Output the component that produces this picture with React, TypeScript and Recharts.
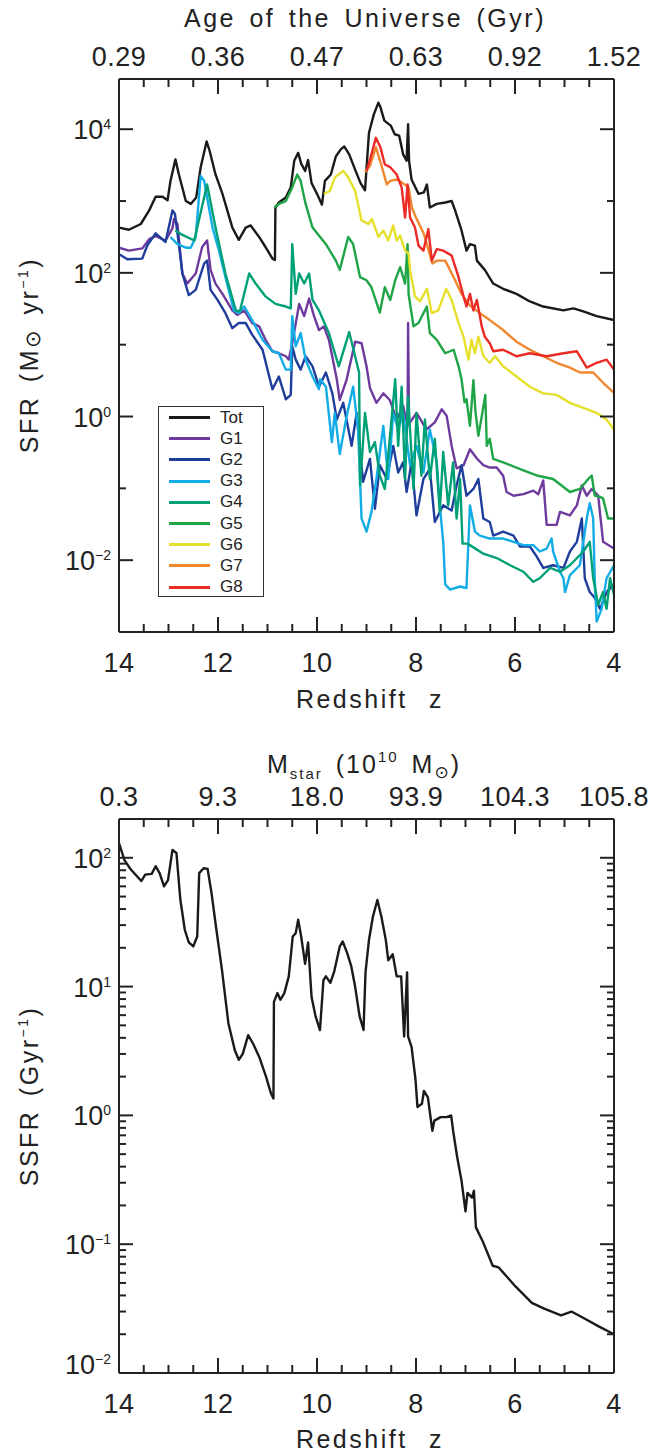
import React from 'react';
import { LineChart, Line, XAxis, YAxis, Legend } from 'recharts';

// ---------- axis ticks & labels ----------
const Z_TICKS = [14, 13.5, 13, 12.5, 12, 11.5, 11, 10.5, 10, 9.5, 9, 8.5, 8, 7.5, 7, 6.5, 6, 5.5, 5, 4.5, 4];
const Z_MAJOR = [14, 12, 10, 8, 6, 4];
const Z_LABELS = ['14', '12', '10', '8', '6', '4'];
const AGE_LABELS = ['0.29', '0.36', '0.47', '0.63', '0.92', '1.52'];
const MSTAR_LABELS = ['0.3', '9.3', '18.0', '93.9', '104.3', '105.8'];
const SFR_TICKS = [0.01, 0.1, 1, 10, 100, 1000, 10000];
const SFR_LABELED = [0.01, 1, 100, 10000];
const SFR_EXP = ['\u22122', '0', '2', '4'];
const SSFR_TICKS = [0.01, 0.02, 0.03, 0.04, 0.05, 0.06, 0.07, 0.08, 0.09, 0.1, 0.2, 0.3, 0.4, 0.5, 0.6, 0.7, 0.8, 0.9, 1, 2, 3, 4, 5, 6, 7, 8, 9, 10, 20, 30, 40, 50, 60, 70, 80, 90, 100];
const SSFR_LABELED = [0.01, 0.1, 1, 10, 100];
const SSFR_EXP = ['\u22122', '\u22121', '0', '1', '2'];

// ---------- series: [redshift z, SFR (Msun/yr)] ----------
const TOT = [[14.0,427],[13.8,398],[13.56,479],[13.39,741],[13.26,1148],[13.12,1148],[13.02,1023],[12.96,1905],[12.86,3802],[12.79,2344],[12.65,1000],[12.55,912],[12.44,1122],[12.35,2951],[12.23,6761],[12.17,5012],[12.05,2344],[11.91,1259],[11.71,427],[11.58,288],[11.44,427],[11.34,457],[11.17,316],[11.04,229],[10.9,158],[10.85,151],[10.84,813],[10.77,955],[10.63,1122],[10.53,1549],[10.46,3631],[10.38,4677],[10.32,3311],[10.24,2630],[10.18,3715],[10.11,1778],[10.0,1259],[9.9,891],[9.84,1905],[9.72,2344],[9.62,4169],[9.52,5248],[9.45,5754],[9.35,4467],[9.22,2630],[9.12,1778],[9.03,1413],[9.0,2818],[8.95,8913],[8.85,16218],[8.76,23442],[8.72,20417],[8.64,13183],[8.51,11220],[8.43,8511],[8.34,8128],[8.26,4467],[8.19,3631],[8.16,11749],[8.14,3631],[8.09,1995],[7.95,1259],[7.84,1318],[7.78,1698],[7.72,813],[7.58,912],[7.41,955],[7.28,1000],[7.21,741],[7.08,389],[6.98,204],[6.91,251],[6.81,240],[6.77,148],[6.61,110],[6.44,71],[6.24,60],[5.97,51],[5.7,40],[5.43,34],[5.02,30],[4.82,32],[4.62,29],[4.35,25],[4.0,22]];
const G1 = [[14.0,224],[13.8,204],[13.53,219],[13.39,295],[13.26,324],[13.06,282],[12.92,417],[12.89,562],[12.82,479],[12.72,98],[12.62,71],[12.45,98],[12.32,229],[12.22,282],[12.15,110],[12.05,71],[11.91,51],[11.71,30],[11.61,26],[11.47,30],[11.31,20],[11.17,18],[11.04,11.7],[10.9,8.1],[10.77,7.6],[10.63,6.9],[10.57,6.2],[10.5,10.5],[10.36,37],[10.26,25],[10.16,44],[10.06,25],[9.96,16],[9.86,18],[9.76,11.7],[9.6,3.3],[9.54,1.7],[9.4,3.3],[9.23,11],[9.1,10.5],[9.0,5.0],[8.93,2.5],[8.8,1.55],[8.66,2.1],[8.53,1.7],[8.39,0.91],[8.26,1.41],[8.17,0.74],[8.16,20],[8.14,0.79],[7.99,1.12],[7.79,0.66],[7.62,0.83],[7.48,1.26],[7.38,1.02],[7.28,0.39],[7.18,0.19],[7.04,0.21],[6.91,0.35],[6.77,0.26],[6.64,0.21],[6.51,0.195],[6.37,0.195],[6.24,0.15],[6.17,0.089],[6.03,0.079],[5.83,0.083],[5.63,0.093],[5.53,0.083],[5.43,0.129],[5.36,0.031],[5.16,0.031],[5.09,0.047],[4.89,0.042],[4.75,0.058],[4.65,0.11],[4.55,0.079],[4.45,0.098],[4.32,0.079],[4.22,0.018],[4.0,0.0145]];
const G2 = [[14.0,182],[13.83,155],[13.53,158],[13.43,240],[13.26,355],[13.06,269],[12.92,741],[12.87,661],[12.8,282],[12.72,98],[12.59,49],[12.45,58],[12.28,135],[12.22,148],[12.15,58],[12.01,42],[11.85,27.5],[11.71,17],[11.58,20],[11.44,20],[11.31,13.8],[11.1,8.5],[10.9,2.4],[10.77,3.6],[10.63,1.74],[10.53,2.0],[10.5,9.5],[10.43,6.2],[10.33,4.5],[10.23,6.9],[10.09,5.0],[9.96,2.6],[9.82,4.1],[9.69,2.1],[9.6,0.91],[9.47,1.55],[9.3,0.39],[9.2,1.12],[9.07,0.123],[8.93,0.257],[8.83,0.052],[8.73,0.21],[8.59,0.135],[8.46,0.39],[8.36,0.166],[8.26,0.23],[8.19,0.089],[8.09,0.23],[7.99,0.042],[7.85,0.135],[7.72,0.186],[7.62,0.034],[7.45,0.058],[7.28,0.049],[7.18,0.11],[7.08,0.21],[6.98,0.079],[6.84,0.098],[6.74,0.135],[6.64,0.038],[6.51,0.034],[6.44,0.022],[6.24,0.025],[6.03,0.022],[5.9,0.0155],[5.7,0.0155],[5.56,0.0112],[5.43,0.0078],[5.23,0.0085],[5.02,0.0078],[4.89,0.0132],[4.75,0.018],[4.65,0.038],[4.59,0.0056],[4.49,0.0036],[4.39,0.003],[4.28,0.0021],[4.15,0.0036],[4.0,0.0046]];
const G3 = [[12.96,316],[12.82,251],[12.65,224],[12.55,224],[12.45,316],[12.35,2239],[12.28,1905],[12.22,1122],[12.11,427],[11.98,204],[11.85,87],[11.68,30],[11.58,27.5],[11.47,34],[11.31,22],[11.1,11.7],[10.9,8.1],[10.77,7.6],[10.63,4.5],[10.53,4.5],[10.5,25],[10.43,9.5],[10.33,14.5],[10.23,6.2],[10.09,3.6],[9.96,2.4],[9.94,3.3],[9.82,2.6],[9.7,0.44],[9.64,1.12],[9.54,0.3],[9.4,1.02],[9.27,2.6],[9.17,0.66],[9.1,0.038],[9.0,0.025],[8.9,0.047],[8.8,0.135],[8.66,0.74],[8.56,0.135],[8.46,1.12],[8.36,0.66],[8.26,1.12],[8.12,0.21],[7.99,0.39],[7.85,0.166],[7.72,0.66],[7.58,0.23],[7.52,0.058],[7.45,0.018],[7.41,0.0046],[7.31,0.0039],[7.11,0.0043],[6.98,0.0041],[6.91,0.058],[6.81,0.025],[6.71,0.022],[6.51,0.02],[6.24,0.02],[6.03,0.018],[5.83,0.0162],[5.63,0.0162],[5.5,0.0132],[5.36,0.0145],[5.26,0.02],[5.23,0.0132],[5.09,0.0069],[5.02,0.0056],[4.99,0.0036],[4.89,0.0062],[4.69,0.0085],[4.55,0.038],[4.49,0.062],[4.42,0.038],[4.39,0.0056],[4.35,0.0014],[4.25,0.0021],[4.15,0.0056],[4.0,0.0085]];
const G4 = [[12.86,389],[12.75,347],[12.48,282],[12.22,1698],[12.05,427],[11.85,98],[11.64,30],[11.56,29],[11.37,98],[11.24,71],[11.04,47],[10.84,37],[10.63,34],[10.53,32],[10.5,251],[10.43,51],[10.36,98],[10.26,71],[10.16,98],[10.09,42],[9.96,30],[9.76,14.5],[9.56,5.0],[9.35,15],[9.15,4.1],[9.13,0.11],[9.03,1.12],[8.93,0.32],[8.83,0.44],[8.73,0.15],[8.63,0.098],[8.53,0.49],[8.42,3.3],[8.36,0.39],[8.29,2.6],[8.22,0.135],[8.16,1.9],[8.05,0.098],[7.99,1.12],[7.89,0.15],[7.82,0.91],[7.72,0.135],[7.62,0.49],[7.52,0.047],[7.45,0.32],[7.35,0.058],[7.25,0.23],[7.18,0.038],[7.11,0.135],[7.06,0.017],[6.97,0.017],[6.91,0.0162],[6.64,0.0123],[6.37,0.0107],[6.1,0.0085],[5.83,0.0069],[5.63,0.005],[5.5,0.0056],[5.29,0.0078],[5.09,0.0069],[4.89,0.0085],[4.62,0.0132],[4.49,0.018],[4.42,0.0056],[4.32,0.0024],[4.22,0.0036],[4.15,0.0021],[4.08,0.0056],[4.0,0.0033]];
const G5 = [[10.86,813],[10.77,912],[10.63,1000],[10.5,1549],[10.4,2344],[10.33,1905],[10.23,912],[10.09,427],[9.82,251],[9.62,148],[9.54,110],[9.37,316],[9.27,251],[9.13,87],[9.0,79],[8.9,63],[8.73,28],[8.63,63],[8.52,42],[8.42,79],[8.32,120],[8.22,71],[8.17,251],[8.15,51],[8.05,18],[7.95,20],[7.78,34],[7.72,14.5],[7.58,11.7],[7.41,7.6],[7.24,8.5],[7.14,5.0],[7.08,3.3],[7.02,1.58],[6.98,1.74],[6.91,0.74],[6.84,3.2],[6.8,1.2],[6.74,0.54],[6.67,1.02],[6.6,2.0],[6.57,0.39],[6.51,0.49],[6.44,0.257],[6.24,0.23],[5.83,0.178],[5.56,0.151],[5.23,0.135],[4.89,0.089],[4.69,0.098],[4.52,0.135],[4.45,0.151],[4.39,0.079],[4.28,0.076],[4.22,0.072],[4.12,0.038],[4.0,0.038]];
const G6 = [[9.86,1259],[9.74,1380],[9.64,2138],[9.47,2630],[9.37,2138],[9.23,1380],[9.1,537],[8.96,479],[8.89,562],[8.76,316],[8.66,389],[8.56,282],[8.46,457],[8.39,282],[8.32,331],[8.22,204],[8.15,186],[8.12,110],[8.02,47],[7.92,40],[7.78,60],[7.68,27.5],[7.55,30],[7.39,60],[7.28,42],[7.14,20],[7.04,12.9],[6.94,6.2],[6.88,11.7],[6.81,7.6],[6.74,12.9],[6.64,6.9],[6.51,5.6],[6.4,6.9],[6.24,5.0],[5.97,3.6],[5.7,2.6],[5.43,2.1],[5.16,2.0],[4.89,1.55],[4.62,1.32],[4.35,1.12],[4.15,0.91],[4.0,0.66]];
const G7 = [[9.03,2512],[8.93,3090],[8.81,5623],[8.7,3162],[8.59,1698],[8.52,1905],[8.39,1995],[8.29,1820],[8.15,1549],[8.08,794],[8.0,589],[7.84,347],[7.67,135],[7.58,148],[7.41,148],[7.24,87],[7.08,51],[6.91,35],[6.71,27.5],[6.51,22],[6.24,16],[5.97,11],[5.7,8.5],[5.43,6.9],[5.16,5.6],[4.89,4.8],[4.69,4.1],[4.42,4.1],[4.22,2.95],[4.0,2.14]];
const G8 = [[8.997,2630],[8.92,4000],[8.81,7586],[8.72,5623],[8.63,3236],[8.52,2951],[8.39,2344],[8.29,1549],[8.22,589],[8.17,1698],[8.12,589],[8.02,427],[7.95,240],[7.85,204],[7.75,407],[7.68,148],[7.58,214],[7.45,204],[7.28,174],[7.14,87],[7.04,47],[6.98,34],[6.91,51],[6.84,30],[6.77,42],[6.67,17.8],[6.61,12.9],[6.51,10.5],[6.44,8.1],[6.24,8.5],[5.97,6.9],[5.7,7.6],[5.36,6.9],[5.02,7.6],[4.75,8.1],[4.55,4.8],[4.35,5.6],[4.15,6.2],[4.0,4.5]];

// ---------- specific SFR (1/Gyr) ----------
const SSFR = [[14.0,130],[13.89,96],[13.76,81],[13.55,66],[13.47,74],[13.34,75],[13.26,86],[13.18,76],[13.09,60],[13.01,67],[12.92,115],[12.84,109],[12.76,47],[12.67,27.5],[12.59,22],[12.5,20.5],[12.42,24.5],[12.38,76],[12.29,83],[12.21,82],[12.13,53],[12.04,29],[11.92,13.5],[11.79,5.2],[11.66,3.2],[11.58,2.7],[11.5,3.0],[11.39,4.2],[11.29,3.6],[11.16,2.8],[11.03,2.0],[10.93,1.48],[10.88,1.35],[10.87,7.6],[10.8,8.9],[10.74,7.9],[10.66,8.9],[10.57,12],[10.49,24.5],[10.43,26],[10.38,33],[10.32,24.5],[10.24,15],[10.18,22],[10.11,8.3],[10.03,5.9],[9.94,4.6],[9.87,11.2],[9.82,12],[9.73,10.7],[9.65,13.2],[9.54,20.5],[9.48,22.4],[9.39,18.2],[9.31,14.5],[9.23,10],[9.14,5.9],[9.06,4.6],[9.02,12.9],[8.95,23],[8.87,35],[8.78,47],[8.7,35],[8.61,23],[8.56,16],[8.47,17.8],[8.39,12],[8.3,12],[8.24,4.1],[8.18,12.9],[8.16,4.1],[8.09,3.4],[8.01,1.9],[7.97,1.16],[7.88,1.23],[7.84,1.55],[7.76,1.38],[7.67,0.76],[7.63,0.91],[7.5,0.97],[7.38,0.97],[7.29,1.0],[7.25,0.76],[7.17,0.48],[7.08,0.31],[7.0,0.18],[6.96,0.25],[6.87,0.23],[6.83,0.26],[6.79,0.135],[6.66,0.107],[6.45,0.068],[6.33,0.066],[5.99,0.047],[5.66,0.035],[5.41,0.0316],[5.07,0.028],[4.86,0.03],[4.56,0.026],[4.31,0.023],[4.0,0.02]];

const SERIES_NAMES = ['Tot', 'G1', 'G2', 'G3', 'G4', 'G5', 'G6', 'G7', 'G8'];
const SERIES_VALUES = [TOT, G1, G2, G3, G4, G5, G6, G7, G8];

// ---------- styles ----------
const COLORS = ['#1a1a1a', '#6e3a9e', '#1f3d9b', '#12ade6', '#00a077', '#1fa546', '#e6e02c', '#f0862e', '#ec2a26'];
const FONT = '"Liberation Sans", Arial, Helvetica, sans-serif';
const INK = '#222';
const W = 653;

const toPts = (arr: number[][]) => arr.map(([z, v]) => ({ z, v }));

const xTick = (side: 'top' | 'bottom', labels: string[]) => (props: any) => {
  const { x, y, payload } = props;
  const idx = Z_MAJOR.indexOf(payload.value);
  const major = idx >= 0;
  const len = major ? 15 : 8;
  const dir = side === 'bottom' ? -1 : 1;
  return (
    <g>
      <line x1={x} x2={x} y1={y} y2={y + dir * len} stroke={INK} strokeWidth={2} />
      {major && (
        <text x={x} y={side === 'bottom' ? y + 40 : y - 13} textAnchor="middle" fontFamily={FONT} fontSize={27} letterSpacing={0.5} fill={INK}>
          {labels[idx]}
        </text>
      )}
    </g>
  );
};

const yTick = (side: 'left' | 'right', labeled: number[], exps: string[], lowShift: number | null) => (props: any) => {
  const { x, y, payload } = props;
  const idx = labeled.indexOf(payload.value);
  const major = idx >= 0;
  const len = major ? 14 : 7;
  const dir = side === 'left' ? 1 : -1;
  const base = lowShift !== null && payload.value === labeled[0] ? y + lowShift : y + 10;
  return (
    <g>
      <line x1={x} x2={x + dir * len} y1={y} y2={y} stroke={INK} strokeWidth={2} />
      {major && side === 'left' && (
        <text x={x - 8} y={base} textAnchor="end" fontFamily={FONT} fontSize={27} fill={INK}>
          10<tspan fontSize={14} dy={-10}>{exps[idx]}</tspan>
        </text>
      )}
    </g>
  );
};

const TitleTop = () => (
  <text x={365} y={27} textAnchor="middle" fontFamily={FONT} fontSize={25} letterSpacing={2.5} wordSpacing={4} fill={INK}>
    Age of the Universe (Gyr)
  </text>
);
const RedshiftTitle = ({ yy }: any) => (
  <text x={370} y={yy} textAnchor="middle" fontFamily={FONT} fontSize={25} letterSpacing={2.5} wordSpacing={12} fill={INK}>
    Redshift z
  </text>
);
const SfrTitle = () => (
  <text transform="rotate(-90)" x={-355} y={38} textAnchor="middle" fontFamily={FONT} fontSize={25} letterSpacing={2.5} wordSpacing={4} fill={INK}>
    SFR (M<tspan fontFamily="DejaVu Sans" fontSize={21} dy={2}>{'\u2299'}</tspan>
    <tspan dy={-2}> yr</tspan>
    <tspan fontSize={14} dy={-10}>{'\u22121'}</tspan>
    <tspan dy={10}>)</tspan>
  </text>
);
const MstarTitle = () => (
  <text x={364} y={45} textAnchor="middle" fontFamily={FONT} fontSize={25} letterSpacing={2} wordSpacing={4} fill={INK}>
    M<tspan fontSize={15} dy={6}>star</tspan>
    <tspan dy={-6}> (10</tspan>
    <tspan fontSize={15} dy={-11}>10</tspan>
    <tspan dy={11}> M</tspan>
    <tspan fontFamily="DejaVu Sans" fontSize={17} dy={5}>{'\u2299'}</tspan>
    <tspan dy={-5}>)</tspan>
  </text>
);
const SsfrTitle = () => (
  <text transform="rotate(-90)" x={-368} y={38} textAnchor="middle" fontFamily={FONT} fontSize={25} letterSpacing={2.5} wordSpacing={4} fill={INK}>
    SSFR (Gyr<tspan fontSize={14} dy={-10}>{'\u22121'}</tspan>
    <tspan dy={10}>)</tspan>
  </text>
);

const renderLegend = () => (
  <div style={{ width: 106, height: 191, border: '1.5px solid #333', background: '#fff', position: 'relative', boxSizing: 'border-box' }}>
    {SERIES_NAMES.map((n, i) => (
      <div key={n} style={{ position: 'absolute', left: 10, top: 0.5 + 21.2 * i, height: 20, display: 'flex', alignItems: 'center' }}>
        <div style={{ width: 41, height: 0, borderTop: `3px solid ${COLORS[i]}` }} />
        <span style={{ marginLeft: 10, fontFamily: FONT, fontSize: 17, color: INK, lineHeight: '20px' }}>{n}</span>
      </div>
    ))}
  </div>
);

const axisLine = { stroke: INK, strokeWidth: 2 };

export default function App() {
  return (
    <div style={{ width: W, height: 1453, overflow: 'hidden', background: '#fff' }}>
      <style>{'body{margin:0;background:#fff}'}</style>
      <LineChart width={W} height={728} margin={{ top: 0, right: 0, bottom: 0, left: 0 }}>
        <XAxis xAxisId="b" type="number" dataKey="z" domain={[4, 14]} reversed allowDataOverflow ticks={Z_TICKS} interval={0}
          height={96} tickSize={0} tickMargin={0} tickLine={false} axisLine={axisLine} tick={xTick('bottom', Z_LABELS)}
          label={<RedshiftTitle yy={708} />} />
        <XAxis xAxisId="t" orientation="top" type="number" dataKey="z" domain={[4, 14]} reversed allowDataOverflow ticks={Z_TICKS} interval={0}
          height={79} tickSize={0} tickMargin={0} tickLine={false} axisLine={axisLine} tick={xTick('top', AGE_LABELS)}
          label={<TitleTop />} />
        <YAxis yAxisId="l" type="number" scale="log" domain={[0.001, 50000]} allowDataOverflow ticks={SFR_TICKS} interval={0}
          width={119} tickSize={0} tickMargin={0} tickLine={false} axisLine={axisLine} tick={yTick('left', SFR_LABELED, SFR_EXP, null)}
          label={<SfrTitle />} />
        <YAxis yAxisId="r" orientation="right" type="number" scale="log" domain={[0.001, 50000]} allowDataOverflow ticks={SFR_TICKS} interval={0}
          width={39} tickSize={0} tickMargin={0} tickLine={false} axisLine={axisLine} tick={yTick('right', SFR_LABELED, SFR_EXP, null)} />
        {SERIES_VALUES.map((arr, i) => (
          <Line key={SERIES_NAMES[i]} name={SERIES_NAMES[i]} data={toPts(arr)} dataKey="v" xAxisId="b" yAxisId="l" type="linear"
            stroke={COLORS[i]} strokeWidth={2.4} strokeLinejoin="round" dot={false} activeDot={false} isAnimationActive={false} />
        ))}
        <Legend layout="vertical" align="center" verticalAlign="middle" content={renderLegend}
          wrapperStyle={{ left: 158, top: 406, width: 106, height: 191 }} />
      </LineChart>
      <LineChart width={W} height={725} margin={{ top: 0, right: 0, bottom: 0, left: 0 }}>
        <XAxis xAxisId="b" type="number" dataKey="z" domain={[4, 14]} reversed allowDataOverflow ticks={Z_TICKS} interval={0}
          height={80} tickSize={0} tickMargin={0} tickLine={false} axisLine={axisLine} tick={xTick('bottom', Z_LABELS)}
          label={<RedshiftTitle yy={720} />} />
        <XAxis xAxisId="t" orientation="top" type="number" dataKey="z" domain={[4, 14]} reversed allowDataOverflow ticks={Z_TICKS} interval={0}
          height={91} tickSize={0} tickMargin={0} tickLine={false} axisLine={axisLine} tick={xTick('top', MSTAR_LABELS)}
          label={<MstarTitle />} />
        <YAxis yAxisId="l" type="number" scale="log" domain={[0.01, 200]} allowDataOverflow ticks={SSFR_TICKS} interval={0}
          width={119} tickSize={0} tickMargin={0} tickLine={false} axisLine={axisLine} tick={yTick('left', SSFR_LABELED, SSFR_EXP, 1)}
          label={<SsfrTitle />} />
        <YAxis yAxisId="r" orientation="right" type="number" scale="log" domain={[0.01, 200]} allowDataOverflow ticks={SSFR_TICKS} interval={0}
          width={39} tickSize={0} tickMargin={0} tickLine={false} axisLine={axisLine} tick={yTick('right', SSFR_LABELED, SSFR_EXP, 1)} />
        <Line name="SSFR" data={toPts(SSFR)} dataKey="v" xAxisId="b" yAxisId="l" type="linear"
          stroke="#1a1a1a" strokeWidth={2.4} strokeLinejoin="round" dot={false} activeDot={false} isAnimationActive={false} />
      </LineChart>
    </div>
  );
}
